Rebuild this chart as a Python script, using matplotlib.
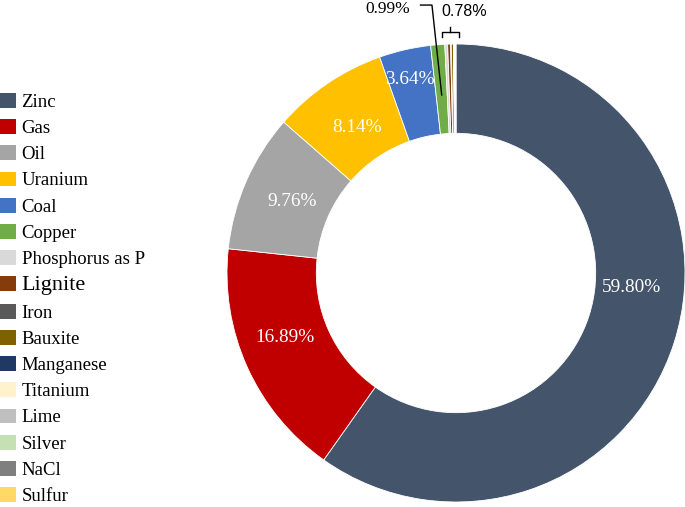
"""Donut chart of resource shares (Zinc, Gas, Oil, ...) with a left-hand legend."""

import matplotlib
matplotlib.use('Agg')
import matplotlib.pyplot as plt
import numpy as np

plt.rcParams['font.family'] = ['Liberation Serif', 'DejaVu Serif']

# --- data -------------------------------------------------------------------
resources = ['Zinc', 'Gas', 'Oil', 'Uranium', 'Coal', 'Copper', 'Phosphorus as P',
             'Lignite', 'Iron', 'Bauxite', 'Manganese', 'Titanium', 'Lime',
             'Silver', 'NaCl', 'Sulfur']
shares = [59.80, 16.89, 9.76, 8.14, 3.64, 0.99, 0.20,
          0.20, 0.05, 0.15, 0.03, 0.03, 0.03,
          0.03, 0.03, 0.03]
colors = ['#44546A', '#C00000', '#A5A5A5', '#FFC000', '#4472C4', '#70AD47', '#D9D9D9',
          '#843C0C', '#595959', '#806000', '#203864', '#FFF2CC', '#BFBFBF',
          '#C5E0B4', '#7F7F7F', '#FFD966']
n_labelled = 5          # wedges with a label inside the ring
small_label = '0.99%'   # copper, with a leader line
rest_label = '0.78%'    # everything after copper, with a bracket

# label placement tweaks (style, not data): radius and angular shift in degrees
label_radius = [0.77, 0.80, 0.78, 0.77, 0.87]
label_shift = [13.0, -3.7, 0.0, 0.0, 0.5]

# --- figure -----------------------------------------------------------------
W, H = 685, 507
fig = plt.figure(figsize=(W / 100, H / 100), dpi=100)
cx, cy, r = 456, 507 - 273, 229
ax = fig.add_axes([(cx - r) / W, (cy - r) / H, 2 * r / W, 2 * r / H])

wedges, _ = ax.pie(shares, colors=colors, startangle=90, counterclock=False,
                   wedgeprops=dict(width=0.39, edgecolor='white', linewidth=0.6))
ax.set_xlim(-1, 1)
ax.set_ylim(-1, 1)
ax.set_aspect('equal')

for i in range(n_labelled):
    w = wedges[i]
    ang = np.deg2rad((w.theta1 + w.theta2) / 2 + label_shift[i])
    ax.text(label_radius[i] * np.cos(ang), label_radius[i] * np.sin(ang),
            f'{shares[i]:.2f}%', color='white', fontsize=13.9,
            ha='center', va='center')

# copper: leader line to a label above the ring
cu = wedges[5]
a = np.deg2rad((cu.theta1 + cu.theta2) / 2)
ax.plot([-0.155, -0.105, 0.78 * np.cos(a)], [1.170, 1.170, 0.78 * np.sin(a)],
        color='black', lw=1.0, clip_on=False)
ax.text(-0.299, 1.155, small_label, fontsize=12.5, ha='center', va='center')

# remaining small wedges: bracket + label
t_lo = np.deg2rad(min(w.theta1 for w in wedges[6:]))
t_hi = np.deg2rad(max(w.theta2 for w in wedges[6:]))
x0, x1 = np.cos(t_hi) - 0.012, np.cos(t_lo) + 0.012
xm = (x0 + x1) / 2
yb = 1.052
ax.plot([x0, x0, x1, x1], [yb - 0.022, yb, yb, yb - 0.022],
        color='black', lw=1.0, clip_on=False)
ax.plot([xm, xm], [yb, yb + 0.024], color='black', lw=1.0, clip_on=False)
ax.text(x0 - 0.004, 1.14, rest_label, fontsize=11.5, ha='left', va='center',
        family=['Liberation Sans', 'DejaVu Sans'])

# legend
leg = fig.legend(wedges, resources, loc='center left',
                 bbox_to_anchor=(0.0, (507 - 299) / 507), frameon=False,
                 fontsize=13.5, handlelength=0.85, handleheight=0.85,
                 handletextpad=0.3, labelspacing=0.44, borderpad=0,
                 borderaxespad=0)
leg.get_texts()[7].set_fontsize(16)
for h in leg.legend_handles:
    h.set_edgecolor('none')

fig.savefig('out.png', dpi=100)
